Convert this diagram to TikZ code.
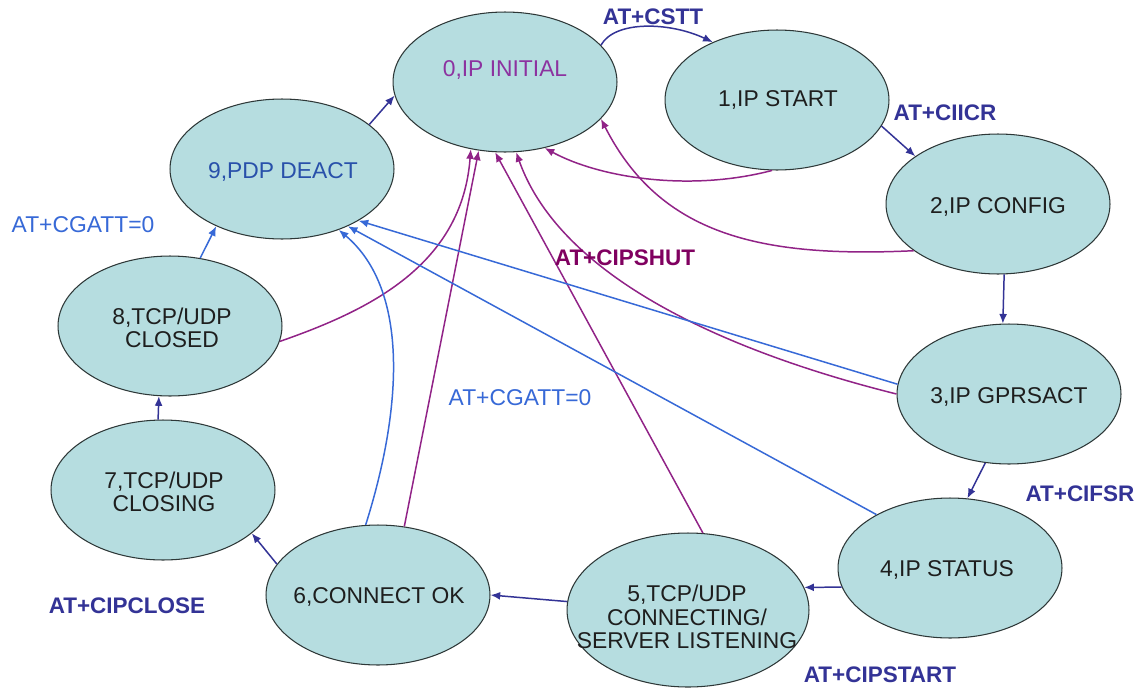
\documentclass[tikz,border=0pt]{standalone}
\usepackage{fontspec}
\setmainfont{Liberation Sans}
\usetikzlibrary{shapes.geometric,arrows.meta}
\definecolor{fillc}{RGB}{182,221,224}
\definecolor{edgec}{RGB}{45,55,55}
\definecolor{navyc}{RGB}{51,51,150}
\definecolor{magc}{RGB}{145,35,135}
\definecolor{shutc}{RGB}{128,0,96}
\definecolor{bluec}{RGB}{55,105,215}
\definecolor{purpt}{RGB}{140,50,160}
\definecolor{bluet}{RGB}{40,80,170}
\definecolor{darkt}{RGB}{30,30,30}
\begin{document}
\begin{tikzpicture}[x=0.02cm,y=-0.02cm,
  state/.style={ellipse,draw=edgec,line width=0.6pt,fill=fillc,minimum width=4.48cm,minimum height=2.8cm,inner sep=0pt},
  bigstate/.style={state,minimum width=4.84cm,minimum height=3.08cm},
  txt/.style={font=\fontsize{13pt}{13.2pt}\selectfont,text=darkt,align=center,inner sep=0pt},
  lab/.style={font=\bfseries\fontsize{12.8pt}{13pt}\selectfont,text=navyc,inner sep=0pt},
  bluelab/.style={font=\fontsize{13pt}{13pt}\selectfont,text=bluec,inner sep=0pt},
  tip/.style={-{Latex[length=5.5pt,width=4.5pt]}},
  navyarrow/.style={tip,draw=navyc,line width=0.85pt},
  magarrow/.style={tip,draw=magc,line width=0.85pt},
  bluearrow/.style={tip,draw=bluec,line width=0.85pt}]
\fill[white] (0,0) rectangle (1139,690);
\useasboundingbox (0,0) rectangle (1139,690);

% states
\node[state] (n0) at (505,82) {};
\node[state] (n1) at (777,100) {};
\node[state] (n2) at (998,204) {};
\node[state] (n3) at (1009,394) {};
\node[state] (n4) at (950,568) {};
\node[bigstate] (n5) at (688,610) {};
\node[state] (n6) at (378,595) {};
\node[state] (n7) at (163,490) {};
\node[state] (n8) at (170,326) {};
\node[state] (n9) at (282,169) {};

% state texts
\node[txt,text=purpt] (t0) at (505,70) {0,IP INITIAL};
\node[txt] (t1) at (778,100) {1,IP START};
\node[txt] (t2) at (998,207) {2,IP CONFIG};
\node[txt] (t3) at (1009,397) {3,IP GPRSACT};
\node[txt] (t4) at (947,570) {4,IP STATUS};
\node[txt] (t5) at (687,617) {5,TCP/UDP\\CONNECTING/\\SERVER LISTENING};
\node[txt] (t6) at (379,597) {6,CONNECT OK};
\node[txt] (t7) at (164,492) {7,TCP/UDP\\CLOSING};
\node[txt] (t8) at (172,328) {8,TCP/UDP\\CLOSED};
\node[txt,text=bluet] (t9) at (283,172) {9,PDP DEACT};

% main cycle
\draw[navyarrow] (n0.21.7) .. controls (615,20) and (670,22) .. (n1.138.3);
\draw[navyarrow] (n1.-14.7) -- (n2.150.5);
\draw[navyarrow] (n2.-85.9) -- (n3.95);
\draw[navyarrow] (n3.-109.4) -- (n4.76.2);
\draw[navyarrow] (n4.-170.5) -- (n5.11.8);
\draw[navyarrow] (n5.176.7) -- (n6.-0.5);
\draw[navyarrow] (n6.163.5) -- (n7.-26.8);
\draw[navyarrow] (n7.94) -- (n8.-99.7);
\draw[bluearrow] (n8.66.9) -- (n9.-139.3);
\draw[navyarrow] (n9.27.9) -- (n0.-173.3);

% AT+CIPSHUT back to 0
\draw[magarrow] (n1.-94) .. controls (690,192) and (600,178) .. (n0.-59.4);
\draw[magarrow] (n2.-151) .. controls (760,258) and (660,235) .. (n0.-21.8);
\draw[magarrow] (n3.180) .. controls (760,360) and (565,290) .. (n0.-81.9);
\draw[magarrow] (n5.79) -- (n0.-98.9);
\draw[magarrow] (n6.69) -- (n0.-111);
\draw[magarrow] (n8.-8.9) .. controls (370,310) and (462,265) .. (n0.-117.9);

% AT+CGATT=0 to 9
\draw[bluearrow] (n3.175.5) -- (n9.-34.2);
\draw[bluearrow] (n4.144) -- (n9.-41.4);
\draw[bluearrow] (n6.100.8) .. controls (402,410) and (410,290) .. (n9.-47.4);

% labels
\node[lab] (lcstt) at (653,17) {AT+CSTT};
\node[lab] (lciicr) at (945,113) {AT+CIICR};
\node[lab] (lcifsr) at (1080,494) {AT+CIFSR};
\node[lab] (lcipstart) at (880,675) {AT+CIPSTART};
\node[lab] (lcipclose) at (127,606) {AT+CIPCLOSE};
\node[lab,text=shutc] (lcipshut) at (625,258) {AT+CIPSHUT};
\node[bluelab] (lcgatta) at (83,225) {AT+CGATT=0};
\node[bluelab] (lcgattb) at (520,398) {AT+CGATT=0};
\end{tikzpicture}
\end{document}
